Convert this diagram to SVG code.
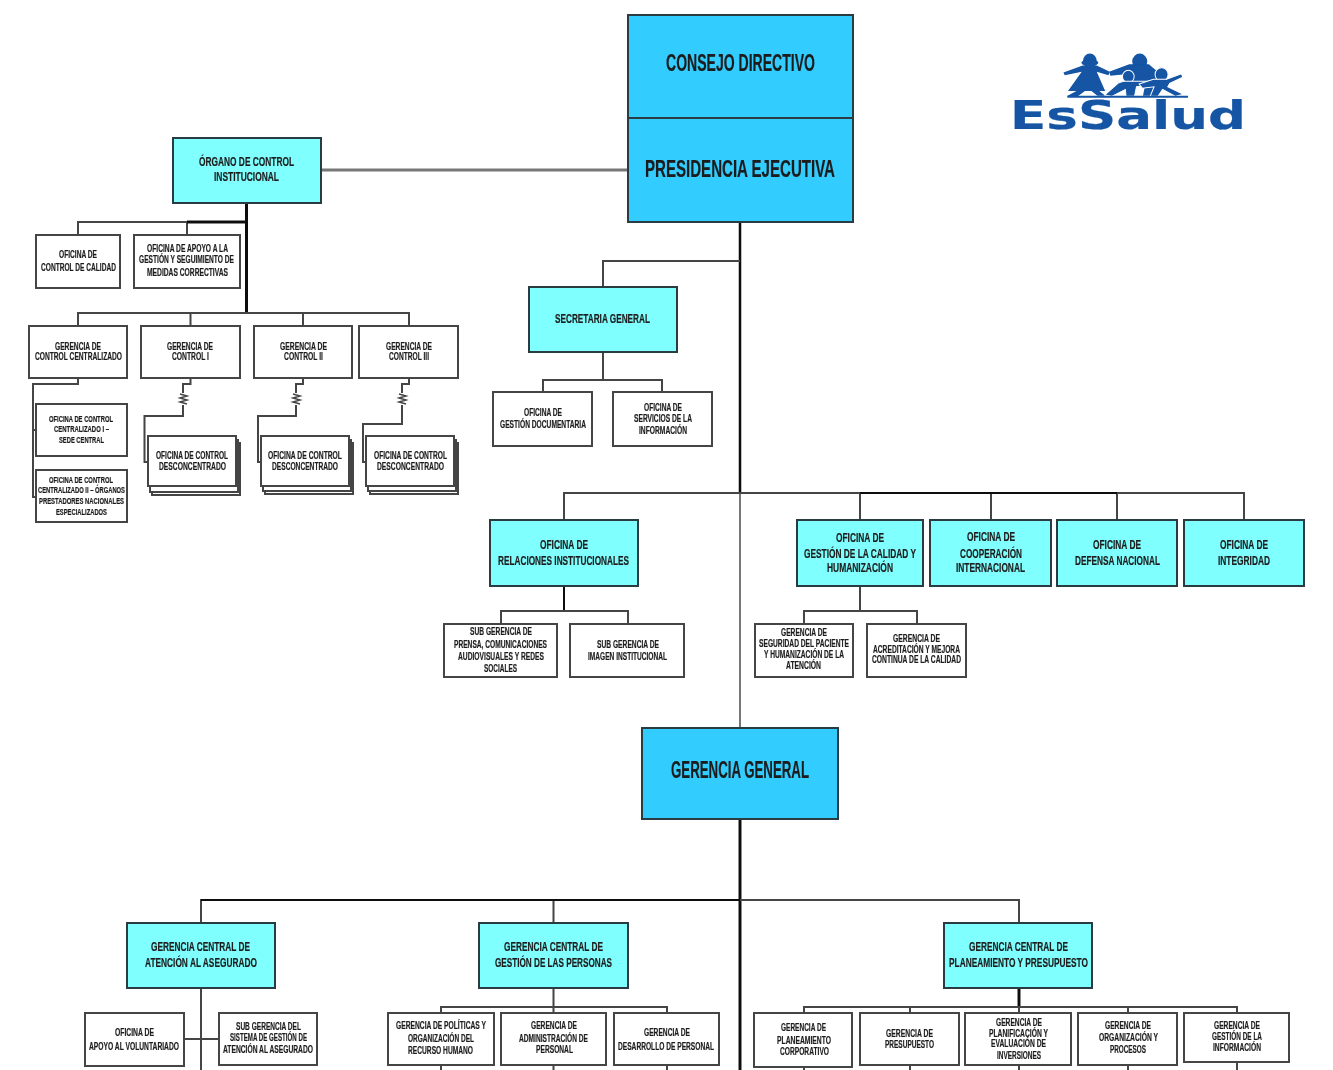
<svg xmlns="http://www.w3.org/2000/svg" width="1333" height="1070" viewBox="0 0 1333 1070">
<style>
text{font-family:"Liberation Sans",Arial,sans-serif;font-weight:700;fill:#1c1c1c;stroke:#1c1c1c;stroke-width:.2;text-anchor:middle}
.blue{fill:#33CCFF;stroke:#2b3a42;stroke-width:2}
.cyan{fill:#80FFFF;stroke:#2b3a42;stroke-width:2}
.white{fill:#fff;stroke:#444;stroke-width:2}
.l{fill:none;stroke:#444;stroke-width:2}
.k{fill:none;stroke:#111;stroke-width:3}
.g{fill:none;stroke:#777;stroke-width:2}
.xl{font-size:24px}.m{font-size:13px}.s{font-size:10.5px}.xs{font-size:9px}
.logo{fill:#1254a4}
</style>
<defs><filter id="soft" filterUnits="userSpaceOnUse" x="0" y="0" width="1333" height="1070"><feGaussianBlur stdDeviation="0.45"/></filter></defs>
<rect width="1333" height="1070" fill="#fff"/>
<g filter="url(#soft)">
<g id="connectors">
<path class="g" style="stroke-width:3" d="M321 170H628"/>
<path class="k" d="M246.500 203V313"/>
<path class="l" d="M78 235V222H246M187 235V222"/>
<path class="k" d="M187 222H246"/>
<path class="l" d="M78 326V313H409V326M190.500 313V326M303 313V326"/>
<path class="l" d="M78 378V384H33V497H36M33 430H36"/>
<path class="l" d="M190.500 378V384H183V393M183 405V416H144.500V462H148"/>
<path class="l" d="M303 378V384H296V393M296 405V416H258V462H261"/>
<path class="l" d="M409 378V384H402V393M402 405V424H363V462H366"/>
<path class="l" style="stroke-width:1.500" d="M180 394L187 396L180 398L187 400L180 402L187 404M293 394L300 396L293 398L300 400L293 402L300 404M399 394L406 396L399 398L406 400L399 402L406 404"/>
<path class="k" style="stroke-width:2.500" d="M740 222V493"/>
<path class="g" d="M740 493V728"/>
<path class="l" d="M740 261H603V287"/>
<path class="l" d="M603 352V380M543 392V380H662V392"/>
<path class="l" d="M564 520V493H1244V520M860 493V520M991 493V520M1117 493V520"/>
<path class="k" style="stroke-width:2" d="M860 493H1117"/>
<path class="k" style="stroke-width:2" d="M564 586V611"/>
<path class="l" d="M501 624V611H628V624"/>
<path class="l" d="M860 586V611M804 624V611H917V624"/>
<path class="k" d="M740 819V1070"/>
<path class="l" d="M201 923V900H1019V923M553.500 900V923"/>
<path class="k" style="stroke-width:2" d="M201 900H740"/>
<path class="l" d="M201 988V1070M184 1039H219"/>
<path class="l" d="M553.500 988V1013M441 1013V1007H667V1013M441 1065V1070M553.500 1065V1070M667 1065V1070"/>
<path class="k" d="M1019 988V1007"/>
<path class="l" d="M804 1013V1007H1237V1013M910 1007V1013M1019 1007V1013M1128 1007V1013M804 1067V1070M910 1065V1070M1019 1065V1070M1128 1065V1070M1237 1062V1070"/>
</g>

<g id="consejo-directivo"><rect class="blue" x="628" y="15" width="225" height="103"/>
<text class="xl" x="740.500" y="71" textLength="149" lengthAdjust="spacingAndGlyphs">CONSEJO DIRECTIVO</text></g>
<g id="presidencia-ejecutiva"><rect class="blue" x="628" y="118" width="225" height="104"/>
<text class="xl" x="740" y="177" textLength="190" lengthAdjust="spacingAndGlyphs">PRESIDENCIA EJECUTIVA</text></g>
<g id="gerencia-general"><rect class="blue" x="642" y="728" width="196" height="91"/>
<text class="xl" x="740" y="778" textLength="138" lengthAdjust="spacingAndGlyphs">GERENCIA GENERAL</text></g>

<g id="organo-control"><rect class="cyan" x="173" y="138" width="148" height="65"/>
<text class="m" x="246.500" y="166" textLength="95" lengthAdjust="spacingAndGlyphs">ÓRGANO DE CONTROL</text>
<text class="m" x="246.500" y="181" textLength="65" lengthAdjust="spacingAndGlyphs">INSTITUCIONAL</text></g>
<g id="of-control-calidad"><rect class="white" x="36" y="235" width="84" height="53"/>
<text class="s" x="78" y="258" textLength="38" lengthAdjust="spacingAndGlyphs">OFICINA DE</text>
<text class="s" x="78.500" y="271" textLength="75" lengthAdjust="spacingAndGlyphs">CONTROL DE CALIDAD</text></g>
<g id="of-apoyo"><rect class="white" x="134" y="235" width="106" height="53"/>
<text class="s" x="187.500" y="252" textLength="81" lengthAdjust="spacingAndGlyphs">OFICINA DE APOYO A LA</text>
<text class="s" x="186.500" y="263" textLength="95" lengthAdjust="spacingAndGlyphs">GESTIÓN Y SEGUIMIENTO DE</text>
<text class="s" x="187.500" y="276" textLength="81" lengthAdjust="spacingAndGlyphs">MEDIDAS CORRECTIVAS</text></g>
<g id="ger-control-centralizado"><rect class="white" x="29" y="326" width="98" height="52"/>
<text class="s" x="78" y="350" textLength="46" lengthAdjust="spacingAndGlyphs">GERENCIA DE</text>
<text class="s" x="78.500" y="360" textLength="87" lengthAdjust="spacingAndGlyphs">CONTROL CENTRALIZADO</text></g>
<g id="ger-control-1"><rect class="white" x="141" y="326" width="99" height="52"/>
<text class="s" x="190" y="350" textLength="46" lengthAdjust="spacingAndGlyphs">GERENCIA DE</text>
<text class="s" x="190.500" y="360" textLength="37" lengthAdjust="spacingAndGlyphs">CONTROL I</text></g>
<g id="ger-control-2"><rect class="white" x="254" y="326" width="98" height="52"/>
<text class="s" x="303.500" y="350" textLength="47" lengthAdjust="spacingAndGlyphs">GERENCIA DE</text>
<text class="s" x="303.500" y="360" textLength="39" lengthAdjust="spacingAndGlyphs">CONTROL II</text></g>
<g id="ger-control-3"><rect class="white" x="359" y="326" width="99" height="52"/>
<text class="s" x="409" y="350" textLength="46" lengthAdjust="spacingAndGlyphs">GERENCIA DE</text>
<text class="s" x="409" y="360" textLength="40" lengthAdjust="spacingAndGlyphs">CONTROL III</text></g>
<g id="of-centralizado-1"><rect class="white" x="36" y="404" width="91" height="52"/>
<text class="xs" x="81" y="422" textLength="64" lengthAdjust="spacingAndGlyphs">OFICINA DE CONTROL</text>
<text class="xs" x="81.500" y="432" textLength="55" lengthAdjust="spacingAndGlyphs">CENTRALIZADO I –</text>
<text class="xs" x="81.500" y="443" textLength="45" lengthAdjust="spacingAndGlyphs">SEDE CENTRAL</text></g>
<g id="of-centralizado-2"><rect class="white" x="36" y="470" width="91" height="52"/>
<text class="xs" x="81" y="483" textLength="64" lengthAdjust="spacingAndGlyphs">OFICINA DE CONTROL</text>
<text class="xs" x="81.500" y="493" textLength="87" lengthAdjust="spacingAndGlyphs">CENTRALIZADO II – ÓRGANOS</text>
<text class="xs" x="81.500" y="504" textLength="85" lengthAdjust="spacingAndGlyphs">PRESTADORES NACIONALES</text>
<text class="xs" x="81.500" y="515" textLength="51" lengthAdjust="spacingAndGlyphs">ESPECIALIZADOS</text></g>
<g id="of-desconcentrado-1"><rect class="white" x="152" y="443" width="88" height="52"/><rect class="white" x="150" y="440" width="88" height="52"/><rect class="white" x="148" y="436" width="88" height="50"/>
<text class="s" x="192" y="459" textLength="72" lengthAdjust="spacingAndGlyphs">OFICINA DE CONTROL</text>
<text class="s" x="192.500" y="470" textLength="67" lengthAdjust="spacingAndGlyphs">DESCONCENTRADO</text></g>
<g id="of-desconcentrado-2"><rect class="white" x="265" y="443" width="88" height="51"/><rect class="white" x="263" y="440" width="88" height="51"/><rect class="white" x="261" y="436" width="88" height="50"/>
<text class="s" x="305" y="459" textLength="74" lengthAdjust="spacingAndGlyphs">OFICINA DE CONTROL</text>
<text class="s" x="305" y="470" textLength="66" lengthAdjust="spacingAndGlyphs">DESCONCENTRADO</text></g>
<g id="of-desconcentrado-3"><rect class="white" x="370" y="443" width="88" height="51"/><rect class="white" x="368" y="440" width="88" height="51"/><rect class="white" x="366" y="436" width="88" height="50"/>
<text class="s" x="410.500" y="459" textLength="73" lengthAdjust="spacingAndGlyphs">OFICINA DE CONTROL</text>
<text class="s" x="410.500" y="470" textLength="67" lengthAdjust="spacingAndGlyphs">DESCONCENTRADO</text></g>

<g id="secretaria-general"><rect class="cyan" x="529" y="287" width="148" height="65"/>
<text class="m" x="602.500" y="323" textLength="95" lengthAdjust="spacingAndGlyphs">SECRETARIA GENERAL</text></g>
<g id="of-gestion-documentaria"><rect class="white" x="493" y="392" width="99" height="54"/>
<text class="s" x="543" y="416" textLength="38" lengthAdjust="spacingAndGlyphs">OFICINA DE</text>
<text class="s" x="543" y="428" textLength="86" lengthAdjust="spacingAndGlyphs">GESTIÓN DOCUMENTARIA</text></g>
<g id="of-servicios-informacion"><rect class="white" x="613" y="392" width="99" height="54"/>
<text class="s" x="663" y="411" textLength="38" lengthAdjust="spacingAndGlyphs">OFICINA DE</text>
<text class="s" x="663" y="422" textLength="58" lengthAdjust="spacingAndGlyphs">SERVICIOS DE LA</text>
<text class="s" x="663" y="434" textLength="48" lengthAdjust="spacingAndGlyphs">INFORMACIÓN</text></g>

<g id="of-relaciones"><rect class="cyan" x="490" y="520" width="148" height="66"/>
<text class="m" x="564" y="549" textLength="48" lengthAdjust="spacingAndGlyphs">OFICINA DE</text>
<text class="m" x="563.500" y="565" textLength="131" lengthAdjust="spacingAndGlyphs">RELACIONES INSTITUCIONALES</text></g>
<g id="of-calidad"><rect class="cyan" x="797" y="520" width="126" height="66"/>
<text class="m" x="860" y="542" textLength="48" lengthAdjust="spacingAndGlyphs">OFICINA DE</text>
<text class="m" x="860" y="558" textLength="112" lengthAdjust="spacingAndGlyphs">GESTIÓN DE LA CALIDAD Y</text>
<text class="m" x="860" y="572" textLength="66" lengthAdjust="spacingAndGlyphs">HUMANIZACIÓN</text></g>
<g id="of-cooperacion"><rect class="cyan" x="930" y="520" width="121" height="66"/>
<text class="m" x="991" y="541" textLength="48" lengthAdjust="spacingAndGlyphs">OFICINA DE</text>
<text class="m" x="991" y="558" textLength="62" lengthAdjust="spacingAndGlyphs">COOPERACIÓN</text>
<text class="m" x="990.500" y="572" textLength="69" lengthAdjust="spacingAndGlyphs">INTERNACIONAL</text></g>
<g id="of-defensa"><rect class="cyan" x="1057" y="520" width="120" height="66"/>
<text class="m" x="1117" y="549" textLength="48" lengthAdjust="spacingAndGlyphs">OFICINA DE</text>
<text class="m" x="1117.500" y="565" textLength="85" lengthAdjust="spacingAndGlyphs">DEFENSA NACIONAL</text></g>
<g id="of-integridad"><rect class="cyan" x="1184" y="520" width="120" height="66"/>
<text class="m" x="1244" y="549" textLength="48" lengthAdjust="spacingAndGlyphs">OFICINA DE</text>
<text class="m" x="1244" y="565" textLength="52" lengthAdjust="spacingAndGlyphs">INTEGRIDAD</text></g>

<g id="sg-prensa"><rect class="white" x="444" y="624" width="113" height="53"/>
<text class="s" x="501" y="635" textLength="62" lengthAdjust="spacingAndGlyphs">SUB GERENCIA DE</text>
<text class="s" x="500.500" y="648" textLength="93" lengthAdjust="spacingAndGlyphs">PRENSA, COMUNICACIONES</text>
<text class="s" x="501" y="660" textLength="86" lengthAdjust="spacingAndGlyphs">AUDIOVISUALES Y REDES</text>
<text class="s" x="500.500" y="672" textLength="33" lengthAdjust="spacingAndGlyphs">SOCIALES</text></g>
<g id="sg-imagen"><rect class="white" x="570" y="624" width="114" height="53"/>
<text class="s" x="628" y="648" textLength="62" lengthAdjust="spacingAndGlyphs">SUB GERENCIA DE</text>
<text class="s" x="627.500" y="660" textLength="79" lengthAdjust="spacingAndGlyphs">IMAGEN INSTITUCIONAL</text></g>
<g id="ger-seguridad"><rect class="white" x="755" y="624" width="98" height="53"/>
<text class="s" x="804" y="636" textLength="46" lengthAdjust="spacingAndGlyphs">GERENCIA DE</text>
<text class="s" x="804" y="647" textLength="90" lengthAdjust="spacingAndGlyphs">SEGURIDAD DEL PACIENTE</text>
<text class="s" x="804" y="658" textLength="80" lengthAdjust="spacingAndGlyphs">Y HUMANIZACIÓN DE LA</text>
<text class="s" x="803.500" y="669" textLength="35" lengthAdjust="spacingAndGlyphs">ATENCIÓN</text></g>
<g id="ger-acreditacion"><rect class="white" x="867" y="624" width="99" height="53"/>
<text class="s" x="916.500" y="642" textLength="47" lengthAdjust="spacingAndGlyphs">GERENCIA DE</text>
<text class="s" x="916.500" y="653" textLength="87" lengthAdjust="spacingAndGlyphs">ACREDITACIÓN Y MEJORA</text>
<text class="s" x="916.500" y="663" textLength="89" lengthAdjust="spacingAndGlyphs">CONTINUA DE LA CALIDAD</text></g>

<g id="gc-asegurado"><rect class="cyan" x="127" y="923" width="148" height="65"/>
<text class="m" x="200.500" y="951" textLength="99" lengthAdjust="spacingAndGlyphs">GERENCIA CENTRAL DE</text>
<text class="m" x="201" y="967" textLength="112" lengthAdjust="spacingAndGlyphs">ATENCIÓN AL ASEGURADO</text></g>
<g id="gc-personas"><rect class="cyan" x="479" y="923" width="149" height="65"/>
<text class="m" x="553.500" y="951" textLength="99" lengthAdjust="spacingAndGlyphs">GERENCIA CENTRAL DE</text>
<text class="m" x="553.500" y="967" textLength="117" lengthAdjust="spacingAndGlyphs">GESTIÓN DE LAS PERSONAS</text></g>
<g id="gc-planeamiento"><rect class="cyan" x="944" y="923" width="148" height="65"/>
<text class="m" x="1018.500" y="951" textLength="99" lengthAdjust="spacingAndGlyphs">GERENCIA CENTRAL DE</text>
<text class="m" x="1018.500" y="967" textLength="139" lengthAdjust="spacingAndGlyphs">PLANEAMIENTO Y PRESUPUESTO</text></g>

<g id="of-voluntariado"><rect class="white" x="85" y="1013" width="99" height="53"/>
<text class="s" x="134.500" y="1036" textLength="39" lengthAdjust="spacingAndGlyphs">OFICINA DE</text>
<text class="s" x="134" y="1050" textLength="90" lengthAdjust="spacingAndGlyphs">APOYO AL VOLUNTARIADO</text></g>
<g id="sg-sistema"><rect class="white" x="219" y="1013" width="98" height="52"/>
<text class="s" x="268.500" y="1030" textLength="65" lengthAdjust="spacingAndGlyphs">SUB GERENCIA DEL</text>
<text class="s" x="268.500" y="1041" textLength="77" lengthAdjust="spacingAndGlyphs">SISTEMA DE GESTIÓN DE</text>
<text class="s" x="268" y="1053" textLength="90" lengthAdjust="spacingAndGlyphs">ATENCIÓN AL ASEGURADO</text></g>
<g id="ger-politicas"><rect class="white" x="388" y="1013" width="106" height="52"/>
<text class="s" x="441" y="1029" textLength="90" lengthAdjust="spacingAndGlyphs">GERENCIA DE POLÍTICAS Y</text>
<text class="s" x="441" y="1042" textLength="66" lengthAdjust="spacingAndGlyphs">ORGANIZACIÓN DEL</text>
<text class="s" x="440.500" y="1054" textLength="65" lengthAdjust="spacingAndGlyphs">RECURSO HUMANO</text></g>
<g id="ger-administracion"><rect class="white" x="501" y="1013" width="105" height="52"/>
<text class="s" x="554" y="1029" textLength="46" lengthAdjust="spacingAndGlyphs">GERENCIA DE</text>
<text class="s" x="553.500" y="1042" textLength="69" lengthAdjust="spacingAndGlyphs">ADMINISTRACIÓN DE</text>
<text class="s" x="554.500" y="1053" textLength="37" lengthAdjust="spacingAndGlyphs">PERSONAL</text></g>
<g id="ger-desarrollo"><rect class="white" x="614" y="1013" width="105" height="52"/>
<text class="s" x="667" y="1036" textLength="46" lengthAdjust="spacingAndGlyphs">GERENCIA DE</text>
<text class="s" x="666" y="1050" textLength="96" lengthAdjust="spacingAndGlyphs">DESARROLLO DE PERSONAL</text></g>
<g id="ger-planeamiento"><rect class="white" x="754" y="1013" width="98" height="54"/>
<text class="s" x="803.500" y="1031" textLength="45" lengthAdjust="spacingAndGlyphs">GERENCIA DE</text>
<text class="s" x="804" y="1044" textLength="54" lengthAdjust="spacingAndGlyphs">PLANEAMIENTO</text>
<text class="s" x="804.500" y="1055" textLength="49" lengthAdjust="spacingAndGlyphs">CORPORATIVO</text></g>
<g id="ger-presupuesto"><rect class="white" x="860" y="1013" width="99" height="52"/>
<text class="s" x="909.500" y="1037" textLength="47" lengthAdjust="spacingAndGlyphs">GERENCIA DE</text>
<text class="s" x="909.500" y="1048" textLength="49" lengthAdjust="spacingAndGlyphs">PRESUPUESTO</text></g>
<g id="ger-planificacion"><rect class="white" x="965" y="1013" width="106" height="52"/>
<text class="s" x="1019" y="1026" textLength="46" lengthAdjust="spacingAndGlyphs">GERENCIA DE</text>
<text class="s" x="1018.500" y="1037" textLength="59" lengthAdjust="spacingAndGlyphs">PLANIFICACIÓN Y</text>
<text class="s" x="1018.500" y="1047" textLength="55" lengthAdjust="spacingAndGlyphs">EVALUACIÓN DE</text>
<text class="s" x="1019" y="1059" textLength="44" lengthAdjust="spacingAndGlyphs">INVERSIONES</text></g>
<g id="ger-organizacion"><rect class="white" x="1078" y="1013" width="99" height="52"/>
<text class="s" x="1128" y="1029" textLength="46" lengthAdjust="spacingAndGlyphs">GERENCIA DE</text>
<text class="s" x="1128.500" y="1041" textLength="59" lengthAdjust="spacingAndGlyphs">ORGANIZACIÓN Y</text>
<text class="s" x="1128" y="1053" textLength="36" lengthAdjust="spacingAndGlyphs">PROCESOS</text></g>
<g id="ger-gestion-informacion"><rect class="white" x="1184" y="1013" width="105" height="49"/>
<text class="s" x="1237" y="1029" textLength="46" lengthAdjust="spacingAndGlyphs">GERENCIA DE</text>
<text class="s" x="1237" y="1040" textLength="50" lengthAdjust="spacingAndGlyphs">GESTIÓN DE LA</text>
<text class="s" x="1237" y="1051" textLength="48" lengthAdjust="spacingAndGlyphs">INFORMACIÓN</text></g>

<g id="logo">
<g transform="translate(980 30) scale(0.326 0.342)">
<g class="logo">
<circle cx="337" cy="90" r="21"/><ellipse cx="337" cy="96" rx="26" ry="10"/>
<path d="M256 124L315 104H358L398 122L394 132L358 122L384 178H366L384 192H360L342 178H322L300 194H266L296 178H270L312 122L260 132Z"/>
<circle cx="490" cy="92" r="23"/>
<path d="M396 122L458 100H518L545 122L534 192H500L505 168L465 150L438 130L400 134Z"/>
<g stroke="#fff" stroke-width="3">
<circle cx="455" cy="136" r="18"/>
<path d="M383 190L424 155L440 150H478L516 150L512 162L480 166L474 194H448L446 174L404 194Z"/>
<circle cx="557" cy="130" r="20"/>
<path d="M488 158L532 144H572L618 128L622 138L582 156L576 166L624 188L600 194L560 174L546 194H522L534 166L498 170Z"/>
</g>
<path d="M268 192H638V198H268Z"/>
</g>
</g>
<text x="1128" y="129" font-size="39" style="font-family:'DejaVu Sans',sans-serif;fill:#1254a4;stroke:#1254a4" textLength="236" lengthAdjust="spacingAndGlyphs">EsSalud</text>
</g>
</g>
</svg>
